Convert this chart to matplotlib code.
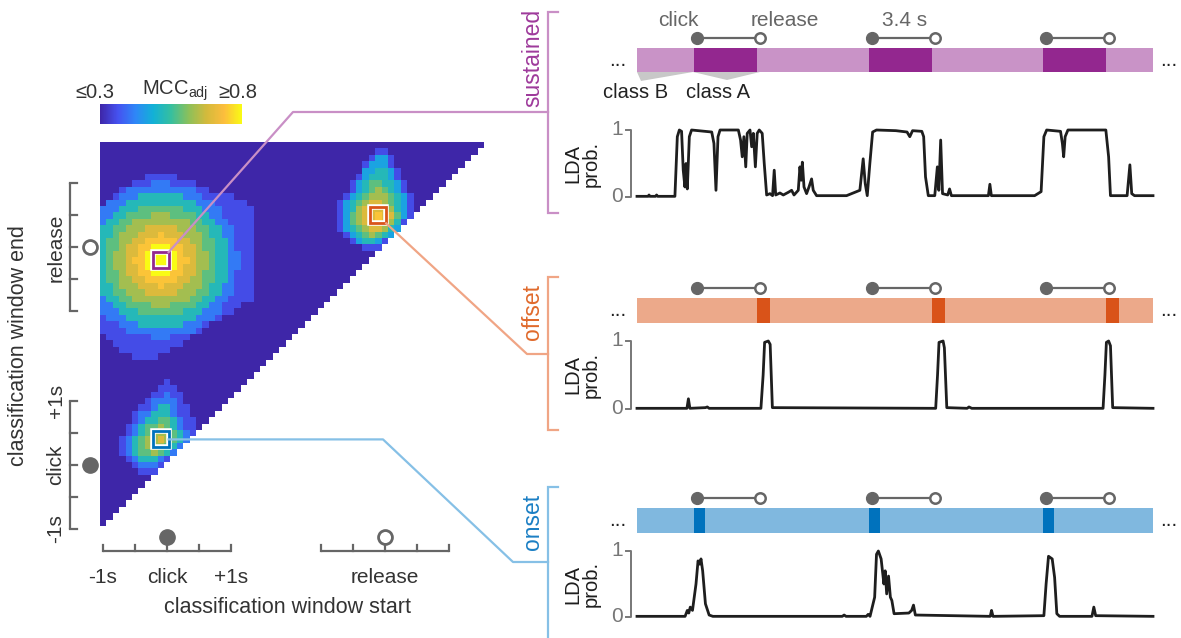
import numpy as np
import matplotlib
matplotlib.use('Agg')
import matplotlib.pyplot as plt
from matplotlib.colors import LinearSegmentedColormap
from matplotlib.patches import Rectangle, Polygon

plt.rcParams['font.family'] = ['Liberation Sans', 'DejaVu Sans']

# ------------------------------------------------------------------ data
# heat-map grid (0.1 s bins); window start bins from -1.0 s, end bins from -0.9 s
N_BINS = 60
BIN = 0.1
START0 = -1.0
END0 = -0.9
MCC_LOW, MCC_HIGH = 0.3, 0.8
BACKGROUND_MCC = 0.25

# read-off MCC levels (0..9 -> 0.3..0.8, '.' = below 0.3); rows listed from top (latest end) down
sustained_patch_i0, sustained_patch_jtop = 0, 54
sustained_patch = [
    ".......11111............",
    ".....1112221111.........",
    "...12222222222211.......",
    "..1222444444422211111...",
    ".2224444444444422211111.",
    "222444555555544422211111",
    "224455556665555442211111",
    "244556666666665544221111",
    "445566677777666554422111",
    "445666777877766654422111",
    "455667788888776655442111",
    "455677889998877655442111",
    "456677899999877665442211",
    "456678899999887665442211",
    "456677899999877665442211",
    "455677889998877655442111",
    "455667788888776655442111",
    "445666777877766654422111",
    "445566677777666554422111",
    "244556666666665544221111",
    "2244555566655554422111..",
    "222444555555544422211...",
    "1222444444444442221.....",
    "11122244444442221.......",
    "1111222222222221........",
    ".1111111222111..........",
    "..11111111111...........",
    "...11111111.............",
    ".....1111...............",
]
offset_patch_i0, offset_patch_jtop = 36, 58
offset_patch = [
    ".......11.....",
    "......1331....",
    ".....13331....",
    ".....334431...",
    "....1344431...",
    "...134554431..",
    "...134565431..",
    "..13456665431.",
    ".134567765431.",
    ".134677776431.",
    ".135677877531.",
    ".13567787641..",
    ".1345677643...",
    "..13456543....",
    "...134431.....",
    ".....111......",
]
onset_patch_i0, onset_patch_jtop = 3, 22
onset_patch = [
    ".......1....",
    "......111...",
    ".....11211..",
    "....122221..",
    "...11244211.",
    "..122444211.",
    "..1244554211",
    ".12455654211",
    ".12456665421",
    "12456676542.",
    "1245666542..",
    "124556542...",
    ".1244421....",
    "..12221.....",
    "...111......",
]

# selected windows (start, end) in s relative to click
classes = ["sustained", "offset", "onset"]
sel_start = [-0.1, 3.3, -0.1]
sel_end = [3.2, 3.9, 0.4]

# task events on the right (s)
click_times = [3.25, 12.7, 22.1]
hold_duration = 3.4
total_time = 27.9

# LDA probability traces
sustained_t = [0.0, 0.6, 0.65, 0.7, 1.0, 1.06, 1.12, 2.05, 2.18, 2.29, 2.41, 2.5, 2.59, 2.65,
               2.72, 2.83, 2.95, 4.04, 4.16, 4.27, 4.38, 4.49, 5.48, 5.6, 5.69, 5.78, 5.88,
               5.96, 6.11, 6.2, 6.29, 6.4, 6.5, 6.61, 6.77, 6.88, 7.01, 7.19, 7.33, 7.42, 7.5,
               7.73, 7.91, 8.18, 8.36, 8.49, 8.72, 8.81, 8.88, 8.94, 9.03, 9.17, 9.3, 9.44,
               9.53, 9.71, 11.33, 12.05, 12.23, 12.34, 12.45, 12.59, 12.74, 12.95, 14.0, 14.6,
               14.75, 14.9, 15.4, 15.5, 15.6, 15.75, 16.1, 16.24, 16.32, 16.42, 16.52, 16.8,
               16.9, 17.0, 19.0, 19.08, 19.16, 21.5, 21.85, 22.0, 22.15, 22.9, 23.0, 23.07,
               23.15, 23.3, 25.35, 25.5, 25.6, 26.5, 26.65, 26.75, 26.9, 27.9]
sustained_p = [0.01, 0.01, 0.03, 0.01, 0.01, 0.03, 0.01, 0.01, 0.9, 1.0, 0.98, 0.4, 0.15, 0.5,
               0.12, 0.9, 1.0, 0.97, 0.8, 0.1, 0.9, 1.0, 1.0, 0.85, 0.6, 0.9, 0.45,
               0.95, 1.0, 0.75, 0.95, 0.45, 0.95, 1.0, 0.95, 0.5, 0.03, 0.05, 0.02, 0.4, 0.03,
               0.06, 0.03, 0.07, 0.1, 0.03, 0.1, 0.45, 0.25, 0.52, 0.15, 0.05, 0.15, 0.27,
               0.1, 0.02, 0.02, 0.1, 0.57, 0.2, 0.02, 0.5, 0.97, 1.0, 0.99, 0.97,
               0.9, 0.99, 0.98, 0.9, 0.3, 0.02, 0.02, 0.45, 0.1, 0.85, 0.05, 0.03,
               0.12, 0.02, 0.02, 0.19, 0.02, 0.02, 0.08, 0.9, 1.0, 0.98, 0.8, 0.6,
               0.9, 1.0, 1.0, 0.6, 0.02, 0.02, 0.48, 0.05, 0.02, 0.02]

offset_t = [0.0, 2.7, 2.78, 2.86, 3.7, 3.8, 3.9, 6.7, 6.82, 6.9, 7.1, 7.2, 7.32,
            16.15, 16.25, 16.33, 16.55, 16.62, 16.75, 17.85, 17.95, 18.1,
            25.2, 25.3, 25.38, 25.5, 25.6, 25.72, 27.9]
offset_p = [0.01, 0.01, 0.15, 0.01, 0.02, 0.03, 0.01, 0.01, 0.5, 0.98, 1.0, 0.95, 0.02,
            0.01, 0.5, 0.98, 1.0, 0.9, 0.02, 0.01, 0.03, 0.01,
            0.01, 0.5, 0.98, 1.0, 0.93, 0.02, 0.01]

onset_t = [0.0, 2.6, 2.72, 2.8, 2.88, 3.0, 3.19, 3.3, 3.39, 3.46, 3.55, 3.7, 3.9, 4.1,
           11.1, 11.2, 11.3, 12.4, 12.5, 12.6, 12.85, 12.95, 13.05, 13.2, 13.35, 13.42,
           13.5, 13.6, 13.7, 13.78, 13.9, 14.7, 14.85, 14.95, 15.05, 19.1, 19.17, 19.25,
           22.0, 22.12, 22.25, 22.45, 22.58, 22.7, 22.85, 24.6, 24.7, 24.8, 27.9]
onset_p = [0.01, 0.01, 0.1, 0.06, 0.15, 0.1, 0.5, 0.85, 0.8, 0.88, 0.7, 0.2, 0.03, 0.01,
           0.01, 0.03, 0.01, 0.01, 0.04, 0.01, 0.3, 0.95, 1.0, 0.88, 0.5, 0.7,
           0.35, 0.62, 0.3, 0.25, 0.05, 0.06, 0.1, 0.18, 0.03, 0.01, 0.1, 0.01,
           0.02, 0.5, 0.92, 0.88, 0.6, 0.05, 0.01, 0.01, 0.15, 0.02, 0.01]

# ------------------------------------------------------------------ style
W, H = 1181, 638
PARULA = ['#3e26a8', '#4552f0', '#2e87f7', '#12b1d6', '#36bf9f', '#8cc05a',
          '#d3ba3c', '#fcbd3d', '#f9fb14']
cmap = LinearSegmentedColormap.from_list('parula_like', PARULA)
cmap.set_bad((1, 1, 1, 0))
CLASS_DARK = {'sustained': '#93278f', 'offset': '#d95319', 'onset': '#0072bd'}
CLASS_LIGHT = {'sustained': '#c993c7', 'offset': '#eca98a', 'onset': '#80b8df'}
CLASS_LINE = {'sustained': '#c98fc6', 'offset': '#f0a585', 'onset': '#86c0e6'}
CLASS_TEXT = {'sustained': '#9e3a9b', 'offset': '#e06a2c', 'onset': '#1b7fc4'}
GRAY = '#666666'
TXT = '#333333'
FS = 15

fig = plt.figure(figsize=(W / 100, H / 100), dpi=100)


def box(x0, y0, x1, y1):
    return [x0 / W, 1 - y1 / H, (x1 - x0) / W, (y1 - y0) / H]


# ------------------------------------------------------------------ heat map
M = np.full((N_BINS, N_BINS), BACKGROUND_MCC)
for rows, i0, jtop in [(sustained_patch, sustained_patch_i0, sustained_patch_jtop),
                       (offset_patch, offset_patch_i0, offset_patch_jtop),
                       (onset_patch, onset_patch_i0, onset_patch_jtop)]:
    for r, row in enumerate(rows):
        for c, ch in enumerate(row):
            if ch != '.':
                M[jtop - r, i0 + c] = MCC_LOW + (MCC_HIGH - MCC_LOW) * int(ch) / 9
jj, ii = np.indices(M.shape)
M = np.ma.masked_where(jj < ii, M)

x_lo, x_hi = START0 - BIN / 2, START0 + (N_BINS - 0.5) * BIN
y_lo, y_hi = END0 - BIN / 2, END0 + (N_BINS - 0.5) * BIN
ax = fig.add_axes(box(99.8, 141.8, 483.8, 525.8))
im = ax.imshow(M, origin='lower', extent=[x_lo, x_hi, y_lo, y_hi], cmap=cmap,
               vmin=MCC_LOW, vmax=MCC_HIGH, interpolation='nearest', aspect='auto')
ax.set_xlim(x_lo, x_hi)
ax.set_ylim(y_lo, y_hi)
ax.set_axis_off()

half = 0.125
for cls, s, e in zip(classes, sel_start, sel_end):
    ax.add_patch(Rectangle((s - half, e - half), 2 * half, 2 * half, fill=False,
                           ec='white', lw=4, zorder=5))
    ax.add_patch(Rectangle((s - half, e - half), 2 * half, 2 * half, fill=False,
                           ec=CLASS_DARK[cls], lw=2, zorder=6))

# custom axis brackets
event_pos = [0.0, hold_duration]
tick_offsets = [-1, -0.5, 0, 0.5, 1]
xt = ax.get_xaxis_transform()
yt = ax.get_yaxis_transform()
bx_spine, bx_tick = -0.066, -0.050
by_spine, by_tick = -0.077, -0.059
for ev in event_pos:
    ax.plot([ev - 1, ev + 1], [bx_spine, bx_spine], transform=xt, color=GRAY, lw=1.6,
            clip_on=False, solid_capstyle='butt')
    ax.plot([by_spine, by_spine], [ev - 1, ev + 1], transform=yt, color=GRAY, lw=1.6,
            clip_on=False, solid_capstyle='butt')
    for o in tick_offsets:
        ax.plot([ev + o, ev + o], [bx_spine, bx_tick], transform=xt, color=GRAY, lw=1.6,
                clip_on=False)
        ax.plot([by_spine, by_tick], [ev + o, ev + o], transform=yt, color=GRAY, lw=1.6,
                clip_on=False)

x_labels = [(-1, '-1s'), (0, 'click'), (1, '+1s'), (hold_duration, 'release')]
for v, lab in x_labels:
    ax.text(v, -0.134, lab, transform=xt, ha='center', va='center', fontsize=FS, color=TXT)
    ax.text(-0.114, v, lab, transform=yt, ha='center', va='center', fontsize=FS, color=TXT,
            rotation=90)
ax.text(0.488, -0.213, 'classification window start', transform=ax.transAxes,
        ha='center', va='center', fontsize=15.5, color=TXT)
ax.text(-0.213, 0.47, 'classification window end', transform=ax.transAxes,
        ha='center', va='center', fontsize=15.5, color=TXT, rotation=90)

# event circles
ax.plot([0], [-0.030], 'o', transform=xt, ms=11, color=GRAY, clip_on=False)
ax.plot([hold_duration], [-0.030], 'o', transform=xt, ms=10, mfc='white', mec=GRAY,
        mew=2, clip_on=False)
ax.plot([-0.026], [0], 'o', transform=yt, ms=11, color=GRAY, clip_on=False)
ax.plot([-0.026], [hold_duration], 'o', transform=yt, ms=10, mfc='white', mec=GRAY,
        mew=2, clip_on=False)

# colour bar
cax = fig.add_axes(box(100, 104, 242, 124))
cb = fig.colorbar(im, cax=cax, orientation='horizontal')
cb.set_ticks([])
cb.outline.set_visible(False)
fig.text(95 / W, 1 - 93 / H, '≤%.1f' % MCC_LOW, ha='center', va='center', fontsize=14.5,
         color=TXT)
fig.text(238 / W, 1 - 93 / H, '≥%.1f' % MCC_HIGH, ha='center', va='center', fontsize=14.5,
         color=TXT)
fig.text(175 / W, 1 - 91 / H, r'MCC$_{\mathregular{adj}}$', ha='center', va='center',
         fontsize=14.5, color=TXT)

# ------------------------------------------------------------------ right panels
BAR_X0, BAR_X1 = 637, 1153
BW = BAR_X1 - BAR_X0
panels = {
    'sustained': dict(marker_y=38, bar=(48, 72), tr=(130, 197), t=sustained_t, p=sustained_p),
    'offset': dict(marker_y=288, bar=(298, 323), tr=(341, 409), t=offset_t, p=offset_p),
    'onset': dict(marker_y=498, bar=(508, 533), tr=(551, 617), t=onset_t, p=onset_p),
}
win_edge = BIN / 2
for cls, s, e in zip(classes, sel_start, sel_end):
    P = panels[cls]
    b0, b1 = P['bar']
    axb = fig.add_axes(box(BAR_X0, b0, BAR_X1, b1))
    axb.set_xlim(0, total_time)
    axb.set_ylim(0, 1)
    axb.set_axis_off()
    axb.add_patch(Rectangle((0, 0), total_time, 1, color=CLASS_LIGHT[cls], lw=0))
    for c in click_times:
        axb.add_patch(Rectangle((c + s - win_edge, 0), (e - s) + 2 * win_edge, 1,
                                color=CLASS_DARK[cls], lw=0))
    my = 1 + (b0 - P['marker_y']) / (b1 - b0)
    for c in click_times:
        axb.plot([c, c + hold_duration], [my, my], color=GRAY, lw=1.6, clip_on=False)
        axb.plot([c], [my], 'o', ms=8.5, color=GRAY, clip_on=False)
        axb.plot([c + hold_duration], [my], 'o', ms=7.5, mfc='white', mec=GRAY, mew=1.8,
                 clip_on=False)
    axb.text(-19 / BW, 0.5, '...', transform=axb.transAxes, ha='center',
             va='center', fontsize=15, color='#222222')
    axb.text(1 + 16 / BW, 0.5, '...', transform=axb.transAxes, ha='center',
             va='center', fontsize=15, color='#222222')

    t0, t1 = P['tr']
    axt = fig.add_axes(box(BAR_X0, t0, BAR_X1, t1))
    axt.set_xlim(0, total_time)
    axt.set_ylim(0, 1)
    axt.set_axis_off()
    axt.plot(P['t'], P['p'], color='#1e1e1e', lw=2.0, clip_on=False)
    tt = axt.get_yaxis_transform()
    sx = -6 / BW
    tk = -11 / BW
    axt.plot([tk, sx, sx, tk], [1, 1, 0, 0], transform=tt, color='#777777', lw=1.4,
             clip_on=False)
    for v in (0, 1):
        axt.text(-20 / BW, v, str(v), transform=tt, ha='center', va='center',
                 fontsize=15, color='#777777')
    axt.text(-55 / BW, 0.5, 'LDA\nprob.', transform=axt.transAxes,
             ha='center', va='center', rotation=90, fontsize=14.5, color='#1e1e1e',
             linespacing=0.9)

fig.text(678 / W, 1 - 21 / H, 'click', ha='center', va='center', fontsize=FS, color=GRAY)
fig.text(785 / W, 1 - 21 / H, 'release', ha='center', va='center', fontsize=FS, color=GRAY)
fig.text(905 / W, 1 - 21 / H, '%.1f s' % hold_duration, ha='center', va='center',
         fontsize=FS, color=GRAY)
fig.text(636 / W, 1 - 93 / H, 'class B', ha='center', va='center', fontsize=14.5,
         color='#222222')
fig.text(718 / W, 1 - 93 / H, 'class A', ha='center', va='center', fontsize=14.5,
         color='#222222')

# ------------------------------------------------------------------ overlay (connectors)
ov = fig.add_axes([0, 0, 1, 1])
ov.set_xlim(0, W)
ov.set_ylim(H, 0)
ov.set_axis_off()
ov.patch.set_alpha(0)

ov.add_patch(Polygon([(637, 72), (693, 72), (641, 81)], closed=True, color='#c8c8c8', lw=0))
ov.add_patch(Polygon([(693, 72), (760, 72), (727, 80)], closed=True, color='#c8c8c8', lw=0))


def to_px(xy):
    d = ax.transData.transform(xy)
    return d[0], H - d[1]


brackets = {'sustained': (12, 213), 'offset': (277, 430), 'onset': (487, 645)}
label_y = {'sustained': 58, 'offset': 312, 'onset': 522}
BR_X = 548
for cls in classes:
    y0, y1 = brackets[cls]
    ov.plot([BR_X + 10, BR_X, BR_X, BR_X + 10], [y0, y0, y1, y1], color=CLASS_LINE[cls],
            lw=1.6, solid_joinstyle='miter')
    ov.text(533, label_y[cls], cls, rotation=90, ha='center', va='center', fontsize=16.5,
            color=CLASS_TEXT[cls])

s, e = sel_start[0], sel_end[0]
p0 = to_px((s + half, e + half))
ov.plot([p0[0], 293, BR_X], [p0[1], 112, 112], color=CLASS_LINE['sustained'], lw=1.6,
        zorder=1)
s, e = sel_start[1], sel_end[1]
p0 = to_px((s + half, e - half))
ov.plot([p0[0], 527, BR_X], [p0[1], 354, 354], color=CLASS_LINE['offset'], lw=1.6,
        zorder=1)
s, e = sel_start[2], sel_end[2]
p0 = to_px((s + half, e))
ov.plot([p0[0], 383, 513, BR_X], [p0[1], p0[1], 562, 562], color=CLASS_LINE['onset'],
        lw=1.6, zorder=1)

fig.savefig('out.png', dpi=100)
